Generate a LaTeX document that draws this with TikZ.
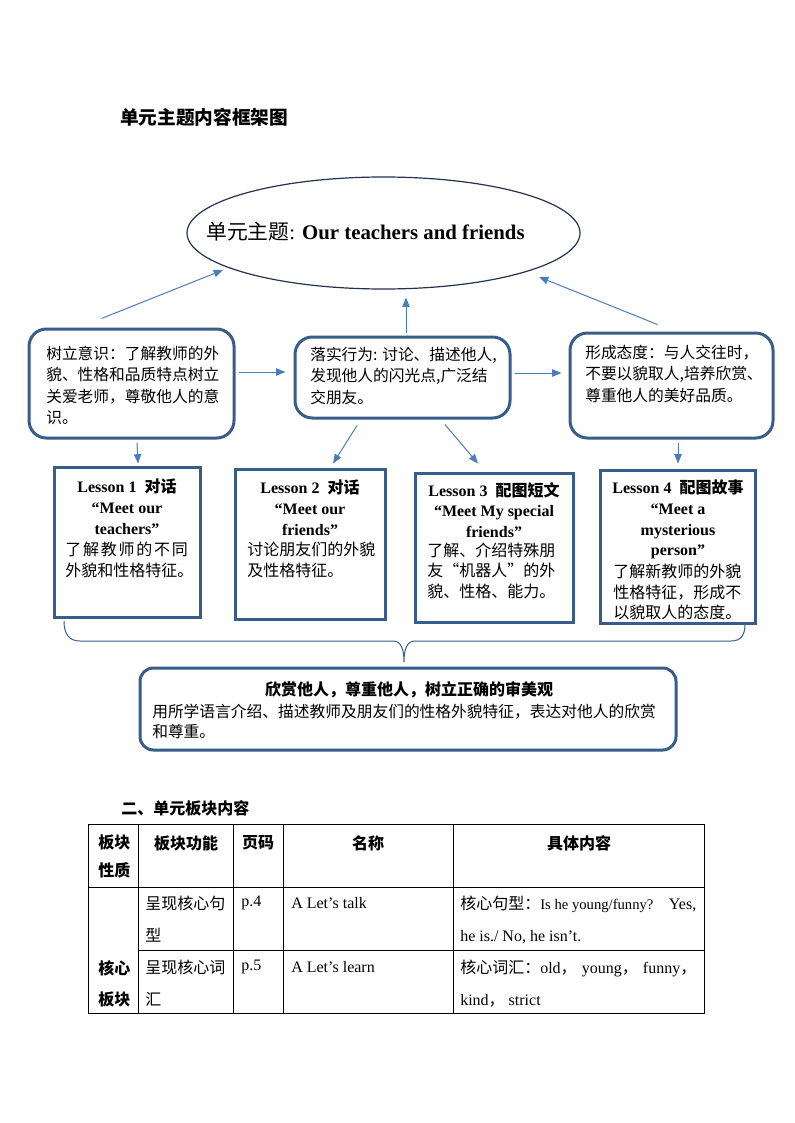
\documentclass[tikz,border=0pt]{standalone}
\usepackage{fontspec}
\setmainfont{Liberation Serif}
\newfontfamily\cjk{Noto Sans CJK SC}
\newfontfamily\cjkfw[RawFeature=+fwid]{Noto Sans CJK SC}
\usetikzlibrary{shapes.geometric,arrows.meta,fit,calc}
\definecolor{boxblue}{RGB}{56,93,138}
\definecolor{arrblue}{RGB}{74,126,187}
\definecolor{ellline}{RGB}{35,50,80}
\begin{document}
\begin{tikzpicture}[x=0.75pt,y=-0.75pt,
  rbox/.style={draw=boxblue, line width=2.25pt, rounded corners=13pt, inner sep=0pt},
  sbox/.style={draw=boxblue, line width=2.25pt, inner sep=0pt},
  arr/.style={draw=arrblue, line width=0.75pt, -{Triangle[length=7pt,width=5.5pt]}},
  zh/.style={inner sep=0pt, align=left, anchor=north west, font=\cjk\fontsize{11.8pt}{16pt}\selectfont},
  zhl/.style={inner sep=0pt, align=left, anchor=north west, font=\cjk\fontsize{12pt}{15.75pt}\selectfont},
  ttl/.style={inner sep=0pt, align=center, anchor=north, font=\bfseries\fontsize{12pt}{15.75pt}\selectfont},
  hd/.style={inner sep=0pt, align=left, anchor=north, font=\cjk\bfseries\fontsize{12pt}{21pt}\selectfont},
  cell/.style={inner sep=0pt, align=left, anchor=north west, font=\fontsize{12pt}{23.6pt}\selectfont},
  tline/.style={draw=black, line width=0.75pt}
]
\fill[white] (0,0) rectangle (794,1123);
\useasboundingbox (0,0) rectangle (794,1123);

% title
\node[anchor=west, inner sep=0pt, font=\cjk\bfseries\fontsize{14pt}{16pt}\selectfont] (title) at (120,117) {单元主题内容框架图};

% theme ellipse
\node[ellipse, draw=ellline, line width=0.9pt, minimum width=294.75pt, minimum height=84pt, inner sep=0pt] (theme) at (383.5,233) {};
\node[anchor=west, inner sep=0pt, font=\fontsize{15.6pt}{18pt}\selectfont] (themetxt) at (206,232) {{\cjk 单元主题}: \textbf{Our teachers and friends}};

% three rounded boxes
\node[rbox, fit={(29,329) (234,438)}] (b1) {};
\node[rbox, fit={(295,337) (510,418)}] (b2) {};
\node[rbox, fit={(570,333) (773,438)}] (b3) {};
\node[zh] (t1) at (46,346) {树立意识：了解教师的外\\貌、性格和品质特点树立\\关爱老师，尊敬他人的意\\识。};
\node[zh] (t2) at (310,347) {落实行为: 讨论、描述他人,\\发现他人的闪光点,广泛结\\交朋友。};
\node[zh] (t3) at (585,345) {形成态度：与人交往时，\\不要以貌取人,培养欣赏、\\尊重他人的美好品质。};

% lesson boxes
\node[sbox, fit={(54,467) (200,617)}] (L1) {};
\node[sbox, fit={(235,469) (385,619)}] (L2) {};
\node[sbox, fit={(415,473) (573,622)}] (L3) {};
\node[sbox, fit={(600,470) (755,623)}] (L4) {};

\node[ttl] (L1t) at (127,478.5) {Lesson 1\ \ {\cjk 对话}\\“Meet our\\teachers”};
\node[zhl] (L1d) at (65,541.5) {\hbox to 92pt{了\hfil 解\hfil 教\hfil 师\hfil 的\hfil 不\hfil 同}\\外貌和性格特征。};
\node[ttl] (L2t) at (310,479.5) {Lesson 2\ \ {\cjk 对话}\\“Meet our\\friends”};
\node[zhl] (L2d) at (247,541.5) {讨论朋友们的外貌\\及性格特征。};
\node[ttl, font=\bfseries\fontsize{12pt}{15.4pt}\selectfont] (L3t) at (494,482) {Lesson 3\ \ {\cjk 配图短文}\\“Meet My special\\friends”};
\node[zhl, font=\cjk\fontsize{12pt}{15.4pt}\selectfont] (L3d) at (427,542.5) {了解、介绍特殊朋\\友{\cjkfw “}机器人{\cjkfw ”}的外\\貌、性格、能力。};
\node[ttl, font=\bfseries\fontsize{12pt}{15.6pt}\selectfont] (L4t) at (678,479.5) {Lesson 4\ \ {\cjk 配图故事}\\“Meet a\\mysterious\\person”};
\node[zhl, font=\cjk\fontsize{12pt}{15.6pt}\selectfont] (L4d) at (613,563.5) {了解新教师的外貌\\性格特征，形成不\\以貌取人的态度。};

% arrows
\draw[arr] ([shift={(74,-9)}]b1.north west) -- ([shift={(-160.5,37)}]theme.center);
\draw[arr] ([shift={(89,-7)}]b3.north west) -- ([shift={(155.5,44)}]theme.center);
\draw[arr] ([shift={(3.5,-3)}]b2.north) -- ([shift={(22.5,8)}]theme.south);
\draw[arr] ([shift={(3,-11.5)}]b1.east) -- ([shift={(-8,-5.5)}]b2.west);
\draw[arr] ([shift={(3,-4.5)}]b2.east) -- ([shift={(-7,-12.5)}]b3.west);
\draw[arr] ([shift={(5.5,3)}]b1.south) -- ([shift={(11,-2)}]L1.north);
\draw[arr] ([shift={(-45.5,6)}]b2.south) -- ([shift={(23,-4)}]L2.north);
\draw[arr] ([shift={(42.5,5)}]b2.south) -- ([shift={(-16,-8)}]L3.north);
\draw[arr] ([shift={(6.5,3)}]b3.south) -- ([shift={(0.5,-5)}]L4.north);

% brace
\draw[draw=boxblue, line width=0.75pt] (64,621) .. controls (64,634) and (69,641) .. (80,641) -- (393,641) .. controls (401,641) and (404,649) .. (404,662) .. controls (404,649) and (407,641) .. (415,641) -- (731,641) .. controls (741,641) and (745,635) .. (745,624);

% summary box
\node[rbox, rounded corners=10pt, fit={(140,668) (676,750)}] (b5) {};
\node[inner sep=0pt, font=\cjk\bfseries\fontsize{12pt}{15pt}\selectfont] (b5t) at (409,690) {欣赏他人，尊重他人，树立正确的审美观};
\node[zh, font=\cjk\fontsize{11.8pt}{15pt}\selectfont] (b5d) at (152,704) {用所学语言介绍、描述教师及朋友们的性格外貌特征，表达对他人的欣赏\\和尊重。};

% section 2
\node[anchor=west, inner sep=0pt, font=\cjk\bfseries\fontsize{12pt}{14pt}\selectfont] (sec2) at (121,808) {二、单元板块内容};

% table
\draw[tline] (88,824) rectangle (704,1013);
\draw[tline] (138,824) -- (138,1013);
\draw[tline] (233,824) -- (233,1013);
\draw[tline] (283,824) -- (283,1013);
\draw[tline] (453,824) -- (453,1013);
\draw[tline] (88,887) -- (704,887);
\draw[tline] (138,950) -- (704,950);

\node[hd, anchor=north west] (h1) at (98,835) {板块\\性质};
\node[hd] (h2) at (186,835) {板块功能};
\node[hd] (h3) at (258,835) {页码};
\node[hd] (h4) at (368,835) {名称};
\node[hd] (h5) at (579,835) {具体内容};

\node[cell, font=\cjk\fontsize{12pt}{23.6pt}\selectfont] (c21) at (145,896) {呈现核心句\\型};
\node[cell, anchor=west] (c22) at (241,903) {p.4};
\node[cell, anchor=west] (c23) at (291,903) {A Let’s talk};
\node[cell] (c24) at (460,896) {\makebox[177pt][l]{{\cjk 核心句型：}{\fontsize{11pt}{13pt}\selectfont Is he young/funny?}\hfill Yes,}\\he is./ No, he isn’t.};

\node[hd, anchor=north west, font=\cjk\bfseries\fontsize{12pt}{23.6pt}\selectfont] (c31) at (98,960) {核心\\板块};
\node[cell, font=\cjk\fontsize{12pt}{23.6pt}\selectfont] (c32) at (145,960) {呈现核心词\\汇};
\node[cell, anchor=west] (c33) at (241,967) {p.5};
\node[cell, anchor=west] (c34) at (291,967) {A Let’s learn};
\node[cell] (c35) at (460,960) {\makebox[177pt][l]{{\cjk 核心词汇：}old{\cjk ，}\hfill young{\cjk ，}\hfill funny{\cjk ，}}\\kind{\cjk ，} strict};
\end{tikzpicture}
\end{document}
